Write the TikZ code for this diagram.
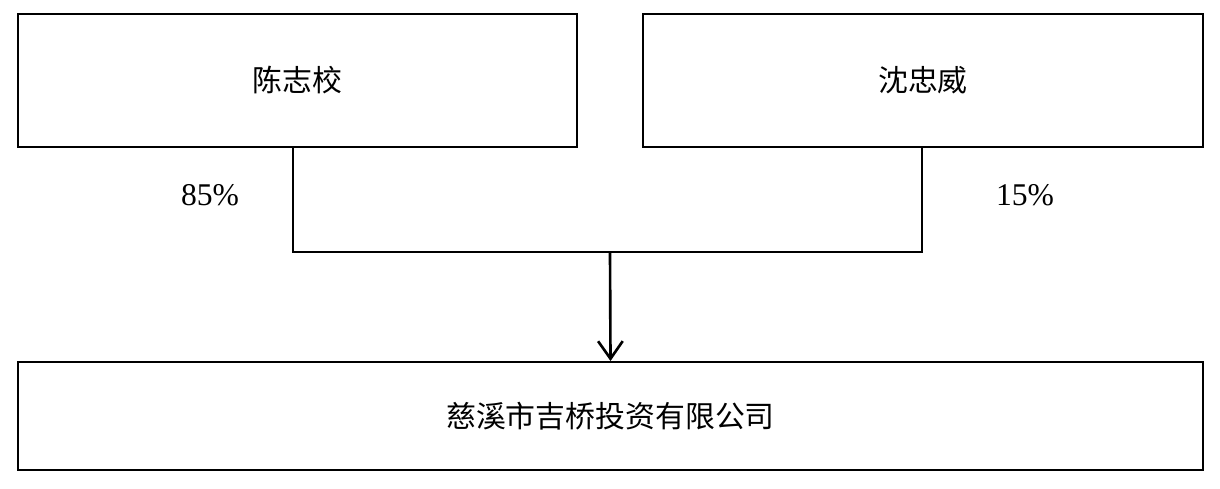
\documentclass[tikz,border=0pt]{standalone}
\usepackage{fontspec}
\setmainfont{Liberation Serif}
\newfontfamily\cjk{Noto Sans CJK SC}
\usetikzlibrary{arrows.meta}
\tikzset{holder/.style={draw,line width=1.1pt,inner sep=0pt,font=\cjk\fontsize{17}{20}\selectfont},
  share/.style={font=\fontsize{18}{20}\selectfont}}
\begin{document}
\begin{tikzpicture}[x=0.02cm,y=-0.02cm]
\useasboundingbox (0,0) rectangle (1220,488);
\node[holder,minimum width=559*0.02cm,minimum height=133*0.02cm] (chen) at (297.5,80.5) {陈志校};
\node[holder,minimum width=560*0.02cm,minimum height=133*0.02cm] (shen) at (923,80.5) {沈忠威};
\node[holder,minimum width=1185*0.02cm,minimum height=108*0.02cm] (ciqi) at (610.5,416) {慈溪市吉桥投资有限公司};
\coordinate (cl) at (293,147);
\coordinate (cr) at (922,147);
\coordinate (j) at (610,252);
\draw[line width=1.3pt] (cl) |- (j) -| (cr);
\draw[line width=1.5pt,-{Straight Barb[length=10pt,width=14pt]}] (j) -- (ciqi.north);
\node[share] (p1) at (210,195) {85\%};
\node[share] (p2) at (1025,195) {15\%};
\end{tikzpicture}
\end{document}
